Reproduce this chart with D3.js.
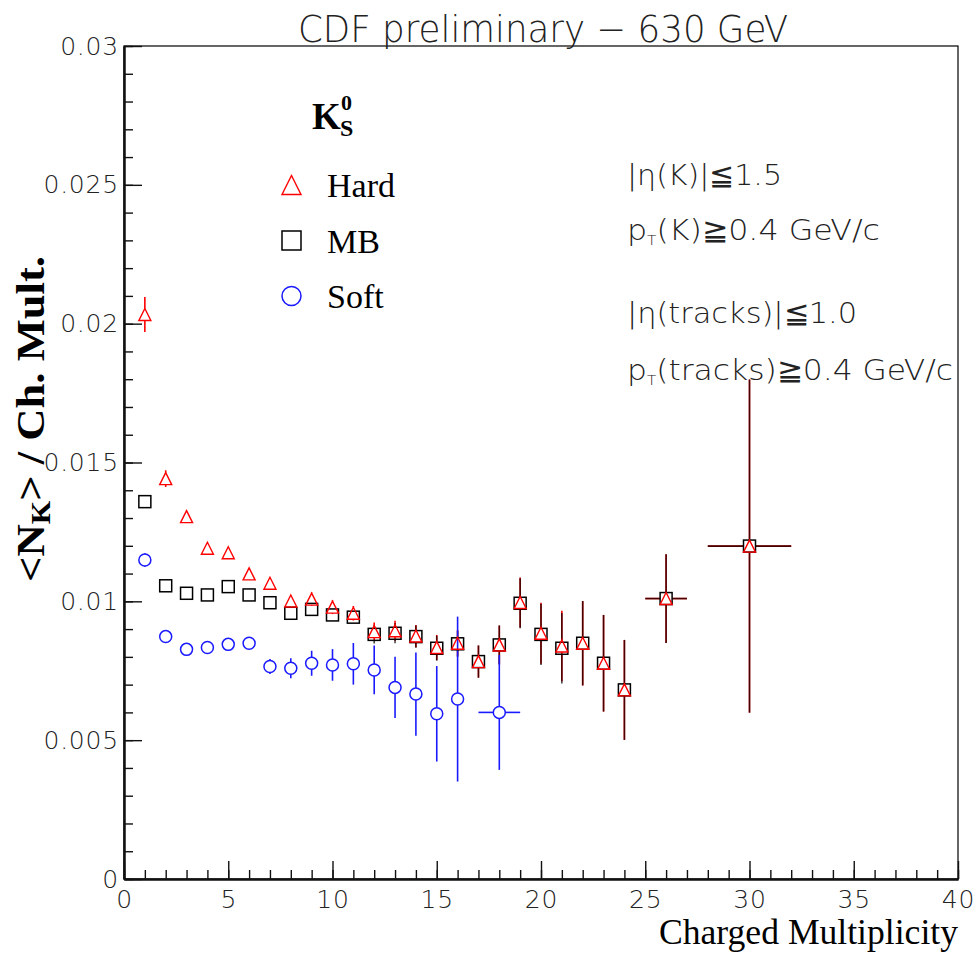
<!DOCTYPE html>
<html>
<head>
<meta charset="utf-8">
<script src="https://cdnjs.cloudflare.com/ajax/libs/d3/7.8.5/d3.min.js"></script>
<style>
	body { margin: 0; background: #fff; }
	.thin { font-family: 'DejaVu Sans', sans-serif; font-weight: 200; fill: #222; }
	.serif { font-family: 'Liberation Serif', 'Times New Roman', serif; fill: #000; }
</style>
</head>
<body>
<div id="vis"></div>
<script>

// charged multiplicity bins (Hard + MB share them)
var multBins = [1, 2, 3, 4, 5, 6, 7, 8, 9, 10, 11, 12, 13, 14, 15, 16, 17, 18, 19, 20, 21, 22, 23, 24, 26, 30];
var multBinErr = [0, 0, 0, 0, 0, 0, 0, 0, 0, 0, 0, 0, 0, 0, 0, 0, 0, 0, 0, 0, 0, 0, 0, 0, 1, 2];

var hardVals = [0.02033, 0.01442, 0.01305, 0.01191, 0.01175, 0.01099, 0.01065, 0.01001, 0.01008, 0.00979, 0.00957, 0.00891, 0.00894,
	0.00875, 0.00834, 0.00849, 0.00783, 0.00843, 0.00996, 0.00885, 0.00839, 0.00849, 0.00777, 0.00681, 0.0101, 0.01199];
var hardErr = [0.00063, 0.0003, 0.00022, 0.0002, 0.0002, 0.0002, 0.0002, 0.00022, 0.00024, 0.00025, 0.00026, 0.00033, 0.00036,
	0.0004, 0.00045, 0.00047, 0.00058, 0.0007, 0.0009, 0.0011, 0.00127, 0.00152, 0.00174, 0.0018, 0.0016, 0.006];

var mbVals = [0.01359, 0.01056, 0.01029, 0.01023, 0.01053, 0.01023, 0.00995, 0.00957, 0.00971, 0.00951, 0.00943, 0.00881, 0.00885,
	0.00873, 0.00831, 0.00847, 0.00783, 0.00843, 0.00993, 0.00881, 0.00831, 0.00849, 0.00777, 0.00681, 0.0101, 0.01199];
var mbErr = [0.0002, 0.00015, 0.00015, 0.00015, 0.00016, 0.00016, 0.00017, 0.00018, 0.0002, 0.00021, 0.00022, 0.00033, 0.00036,
	0.0004, 0.00045, 0.00047, 0.00058, 0.0007, 0.0009, 0.0011, 0.00127, 0.00152, 0.00174, 0.0018, 0.0016, 0.006];

var softBins = [1, 2, 3, 4, 5, 6, 7, 8, 9, 10, 11, 12, 13, 14, 15, 16, 18];
var softBinErr = [0, 0, 0, 0, 0, 0, 0, 0, 0, 0, 0, 0, 0, 0, 0, 0, 1];
var softVals = [0.01149, 0.00873, 0.00827, 0.00834, 0.00845, 0.00849, 0.00765, 0.00759, 0.00777, 0.00771, 0.00775, 0.00753, 0.0069,
	0.00666, 0.00595, 0.00648, 0.006];
var softErr = [0.00024, 0.00018, 0.00018, 0.0002, 0.0002, 0.00022, 0.00027, 0.00036, 0.00045, 0.00057, 0.00075, 0.00088, 0.0011,
	0.0015, 0.00172, 0.00297, 0.00207];

var xTicks = [0, 5, 10, 15, 20, 25, 30, 35, 40];
var xTickLabels = ['0', '5', '10', '15', '20', '25', '30', '35', '40'];
var yTicks = [0, 0.005, 0.01, 0.015, 0.02, 0.025, 0.03];
var yTickLabels = ['0', '0.005', '0.01', '0.015', '0.02', '0.025', '0.03'];

var legendNames = ['Hard', 'MB', 'Soft'];
var titleText = 'CDF preliminary \u2212 630 GeV';
var xTitle = 'Charged Multiplicity';

// cut labels, parts flagged sub are subscripts
var cutLines = [
	[{t: '|\u03b7(K)|\u22661.5'}],
	[{t: 'p'}, {t: 'T', sub: true}, {t: '(K)\u22670.4 GeV/c'}],
	[{t: '|\u03b7(tracks)|\u22661.0'}],
	[{t: 'p'}, {t: 'T', sub: true}, {t: '(tracks)\u22670.4 GeV/c'}]
];

var W = 978, H = 959;
var margin = { top: 46, right: 20, bottom: 80, left: 124 };
var dim = { w: W - margin.left - margin.right, h: H - margin.top - margin.bottom };

var svg = d3.select('#vis').append('svg')
	.attr('width', W)
	.attr('height', H);

var x = d3.scaleLinear().domain([0, 40]).range([margin.left, margin.left + dim.w]);
var y = d3.scaleLinear().domain([0, 0.03]).range([margin.top + dim.h, margin.top]);

//frame
svg.append('rect')
	.attr('x', margin.left)
	.attr('y', margin.top)
	.attr('width', dim.w)
	.attr('height', dim.h)
	.attr('fill', 'none')
	.attr('stroke', '#000')
	.attr('stroke-width', 1.2);

//axes: minor then major ticks, inward
function styleAxis(g) {
	g.select('.domain').attr('stroke', '#111').attr('stroke-width', 2);
	g.selectAll('.tick line').attr('stroke', '#111').attr('stroke-width', 1.4);
	g.selectAll('text')
		.attr('class', 'thin')
		.attr('font-size', 25)
		.attr('letter-spacing', 0.8)
		.attr('fill', '#222');
}

svg.append('g')
	.attr('transform', 'translate(0,' + (margin.top + dim.h) + ')')
	.call(d3.axisBottom(x).tickValues(d3.range(0, 41, 1)).tickSize(-9).tickSizeOuter(0).tickFormat(''))
	.call(styleAxis);
svg.append('g')
	.attr('transform', 'translate(0,' + (margin.top + dim.h) + ')')
	.call(d3.axisBottom(x).tickValues(xTicks).tickSize(-18).tickSizeOuter(0).tickPadding(11)
		.tickFormat(function (d, i) { return xTickLabels[i]; }))
	.call(styleAxis);

svg.append('g')
	.attr('transform', 'translate(' + margin.left + ',0)')
	.call(d3.axisLeft(y).tickValues(d3.range(0, 31, 1).map(function (d) { return d / 1000; }))
		.tickSize(-9).tickSizeOuter(0).tickFormat(''))
	.call(styleAxis);
svg.append('g')
	.attr('transform', 'translate(' + margin.left + ',0)')
	.call(d3.axisLeft(y).tickValues(yTicks).tickSize(-18).tickSizeOuter(0).tickPadding(5)
		.tickFormat(function (d, i) { return yTickLabels[i]; }))
	.call(styleAxis);

//markers
function marker(g, shape, cx, cy, s, color) {
	var h = s / 2;
	if (shape === 'square') {
		g.append('rect')
			.attr('x', cx - h).attr('y', cy - h)
			.attr('width', s).attr('height', s)
			.attr('fill', 'none').attr('stroke', color).attr('stroke-width', 1.5);
	} else if (shape === 'triangle') {
		g.append('path')
			.attr('d', 'M' + cx + ',' + (cy - h) + 'L' + (cx - h) + ',' + (cy + h) + 'L' + (cx + h) + ',' + (cy + h) + 'Z')
			.attr('fill', 'none').attr('stroke', color).attr('stroke-width', 1.4);
	} else {
		g.append('circle')
			.attr('cx', cx).attr('cy', cy).attr('r', h)
			.attr('fill', 'none').attr('stroke', color).attr('stroke-width', 1.5);
	}
}

// error bars stop at the marker edge, like ROOT does
function errors(g, xs, xe, ys, ye, color, opacity, gap) {
	xs.forEach(function (xv, i) {
		var cx = x(xv), cy = y(ys[i]);
		var dy = y(ys[i] - ye[i]) - cy;
		var dx = x(xv + xe[i]) - cx;
		var segs = [];
		if (dy > gap) {
			segs.push([cx, cy - gap, cx, cy - dy]);
			segs.push([cx, cy + gap, cx, cy + dy]);
		}
		if (dx > gap) {
			segs.push([cx - gap, cy, cx - dx, cy]);
			segs.push([cx + gap, cy, cx + dx, cy]);
		}
		segs.forEach(function (s) {
			g.append('line')
				.attr('x1', s[0]).attr('y1', s[1])
				.attr('x2', s[2]).attr('y2', s[3])
				.attr('stroke', color)
				.attr('stroke-opacity', opacity)
				.attr('stroke-width', 1.6);
		});
	});
}

var plot = svg.append('g');

errors(plot, multBins, multBinErr, hardVals, hardErr, '#ff0000', 1, 6);
errors(plot, multBins, multBinErr, mbVals, mbErr, '#000000', 0.72, 6);
errors(plot, softBins, softBinErr, softVals, softErr, '#1a1aff', 1, 6);

multBins.forEach(function (d, i) { marker(plot, 'square', x(d), y(mbVals[i]), 12, '#000'); });
softBins.forEach(function (d, i) { marker(plot, 'circle', x(d), y(softVals[i]), 12, '#1a1aff'); });
multBins.forEach(function (d, i) { marker(plot, 'triangle', x(d), y(hardVals[i]), 12, '#ff0000'); });

//title
svg.append('text')
	.attr('class', 'thin')
	.attr('x', 298)
	.attr('y', 42)
	.attr('font-size', 38)
	.attr('textLength', 490)
	.attr('lengthAdjust', 'spacingAndGlyphs')
	.text(titleText);

//x axis title
svg.append('text')
	.attr('class', 'serif')
	.attr('x', margin.left + dim.w)
	.attr('y', 944)
	.attr('text-anchor', 'end')
	.attr('font-size', 35)
	.attr('textLength', 299)
	.attr('lengthAdjust', 'spacingAndGlyphs')
	.text(xTitle);

//y axis title
var yt = svg.append('text')
	.attr('class', 'serif')
	.attr('font-weight', 'bold')
	.attr('font-size', 40)
	.attr('text-anchor', 'middle')
	.attr('textLength', 326)
	.attr('lengthAdjust', 'spacingAndGlyphs')
	.attr('transform', 'translate(44,419) rotate(-90)');
yt.append('tspan').text('<N');
yt.append('tspan').attr('font-size', 27).attr('dy', 6).text('K');
yt.append('tspan').attr('dy', -6).text('> / Ch. Mult.');

//legend
var lg = svg.append('g');
var kt = lg.append('text')
	.attr('class', 'serif')
	.attr('font-weight', 'bold')
	.attr('x', 312)
	.attr('y', 129)
	.attr('font-size', 37);
kt.append('tspan').text('K');
kt.append('tspan').attr('x', 341).attr('y', 110).attr('font-size', 22).text('0');
kt.append('tspan').attr('x', 340).attr('y', 136).attr('font-size', 24).text('S');

var legendShapes = ['triangle', 'square', 'circle'];
var legendColors = ['#ff0000', '#000', '#1a1aff'];
legendNames.forEach(function (name, i) {
	var cy = 185 + i * 55.5;
	marker(lg, legendShapes[i], 291.5, cy, 19, legendColors[i]);
	lg.append('text')
		.attr('class', 'serif')
		.attr('x', 327)
		.attr('y', cy + 12)
		.attr('font-size', 34)
		.text(name);
});

//cut labels
var cutY = [185, 240, 323, 380];
var cutW = [155, 253, 230, 326];
cutLines.forEach(function (parts, i) {
	var t = svg.append('text')
		.attr('class', 'thin')
		.attr('x', 627)
		.attr('y', cutY[i])
		.attr('font-size', 29)
		.attr('textLength', cutW[i])
		.attr('lengthAdjust', 'spacingAndGlyphs');
	parts.forEach(function (p) {
		if (p.sub) {
			t.append('tspan').attr('font-size', 14).attr('dy', 5).text(p.t);
		} else {
			t.append('tspan').attr('dy', p === parts[0] ? 0 : -5).text(p.t);
		}
	});
});

</script>
</body>
</html>
